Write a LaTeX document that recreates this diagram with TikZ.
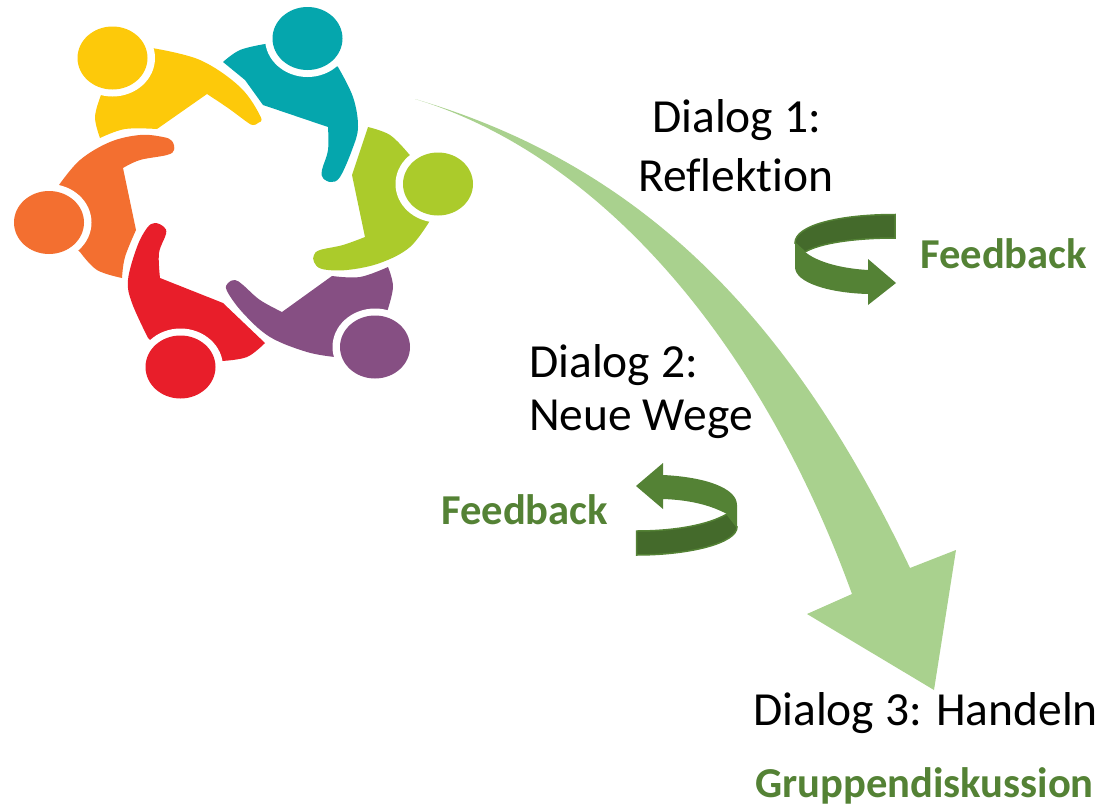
\documentclass[tikz,border=0pt]{standalone}
\usepackage{fontspec}
\setmainfont{Carlito}[Ligatures=NoCommon]
\definecolor{cyellow}{HTML}{FDC90A}
\definecolor{cteal}{HTML}{05A6AD}
\definecolor{clime}{HTML}{ABCB2B}
\definecolor{cpurple}{HTML}{864F83}
\definecolor{cred}{HTML}{E81E2A}
\definecolor{corange}{HTML}{F36F30}
\definecolor{bigarrow}{HTML}{A9D18E}
\definecolor{fbgreen}{HTML}{548235}
\definecolor{fbdark}{HTML}{446A2B}
\tikzset{
  dialog/.style={font=\fontsize{47.5}{56}\selectfont,text=black,inner sep=0pt,anchor=base west},
  fbtext/.style={font=\fontsize{42.6}{50}\selectfont\bfseries,text=fbgreen,inner sep=0pt,anchor=base west},
  pt/.style={smooth,tension=.6},
  band/.style={fill=fbdark,draw=fbgreen,line width=1.5pt}
}
\newcommand{\headat}[2]{%
  \fill[white] (#1) ellipse [x radius=42.5,y radius=38.5];
  \fill[#2] (#1) ellipse [x radius=35,y radius=31.5];}
\begin{document}
\begin{tikzpicture}[x=1pt,y=-1pt]
\useasboundingbox (0,0) rectangle (1104,806);
% yellow
\fill[cyellow] plot[pt] coordinates {(152,48) (200,60) (240,87) (260.5,116.5) (258,123) (253,125) (247,122) (228,108) (207,94)}
  -- (157,129) -- plot[pt] coordinates {(157,129) (125,129) (100,138)}
  -- plot[pt] coordinates {(100,138) (95,117) (101,95)}
  -- (112.5,58) -- cycle;
\headat{112.5,58}{cyellow}
% teal
\fill[cteal] (223,62) -- plot[pt] coordinates {(223,62) (240,50) (265,44)}
  -- (307.5,38.5)
  -- plot[pt] coordinates {(338,67) (353,97) (358,127) (352,150) (340,177) (331,182) (323,178) (322,170) (328,150) (328,127)}
  -- (263,105) -- (245,80) -- cycle;
\headat{307.5,38.5}{cteal}
% lime
\fill[clime] (368,127) -- plot[pt] coordinates {(368,127) (390,135) (408,153)}
  -- (438,184)
  -- plot[pt] coordinates {(431,219) (410,247) (380,263) (347,270) (322,269) (314,262) (314,255) (320,250) (343,245) (365,237)}
  -- (352,175) -- cycle;
\headat{438,184}{clime}
% purple
\fill[cpurple] plot[pt] coordinates {(388,267) (393,287) (387,312)}
  -- (375,347)
  -- plot[pt] coordinates {(335,357) (307,352) (270,337) (243,313) (227,291) (228,283) (235,280) (243,285) (260,300) (282,312)}
  -- (332,276) -- plot[pt] coordinates {(332,276) (360,277) (388,267)} -- cycle;
\headat{375,347}{cpurple}
% red
\fill[cred] plot[pt] coordinates {(148,338) (132,303) (128,280) (137,247) (147,228) (155,223) (164,227) (166,234) (159,253) (160,278)}
  -- (223,303) -- (265,343) -- plot[pt] coordinates {(265,343) (247,357) (222,361)}
  -- (180.5,367) -- cycle;
\headat{180.5,367}{cred}
% orange
\fill[corange] plot[pt] coordinates {(80,252) (97,270) (122,278)}
  -- plot[pt] coordinates {(122,278) (125,257) (136,230)}
  -- (123,168) -- plot[pt] coordinates {(123,168) (140,160) (167,155) (174,150) (172,141) (163,137) (140,135) (110,142) (80,160) (59,185)}
  -- (49,222.5) -- cycle;
\headat{49,222.5}{corange}
% big arrow
\fill[bigarrow] (415,99) .. controls (640,165) and (790,315) .. (910,568)
  -- (956,550) -- (934,690) -- (807,614) -- (852,594)
  .. controls (760,340) and (600,155) .. (415,99) -- cycle;
% feedback arrow 1
\path[band] (895,214.5) -- (895,238) .. controls (855,238) and (820,243) .. (805,252)
  -- (795,243) .. controls (795,225) and (840,214.5) .. (895,214.5) -- cycle;
\fill[fbgreen] (795,243) -- (795,267) .. controls (795,283) and (830,293) .. (868,294)
  -- (868,305) -- (896,283) -- (868,259) -- (868,270)
  .. controls (835,268) and (815,260) .. (805,252) -- cycle;
% feedback arrow 2
\fill[fbgreen] (636,486) -- (663,463) -- (663,475) .. controls (705,477) and (737,488) .. (737,505)
  -- (737,527) -- (727,514) .. controls (710,505) and (690,500) .. (663,499)
  -- (663,509) -- cycle;
\path[band] (636.5,531) .. controls (675,531) and (708,525) .. (727,514)
  -- (737,527) .. controls (737,543) and (690,555) .. (636.5,555) -- cycle;
% text
\node[dialog] (d1a) at (652,132) {Dialog 1:};
\node[dialog] (d1b) at (638,191) {Reflektion};
\node[dialog] (d2a) at (529,377) {Dialog 2:};
\node[dialog] (d2b) at (529,430) {Neue Wege};
\node[dialog] (d3) at (753,725) {Dialog 3: Handeln};
\node[fbtext] (f1) at (920,268) {Feedback};
\node[fbtext] (f2) at (441,524) {Feedback};
\node[fbtext] (g) at (755,797) {Gruppendiskussion};
\end{tikzpicture}
\end{document}
